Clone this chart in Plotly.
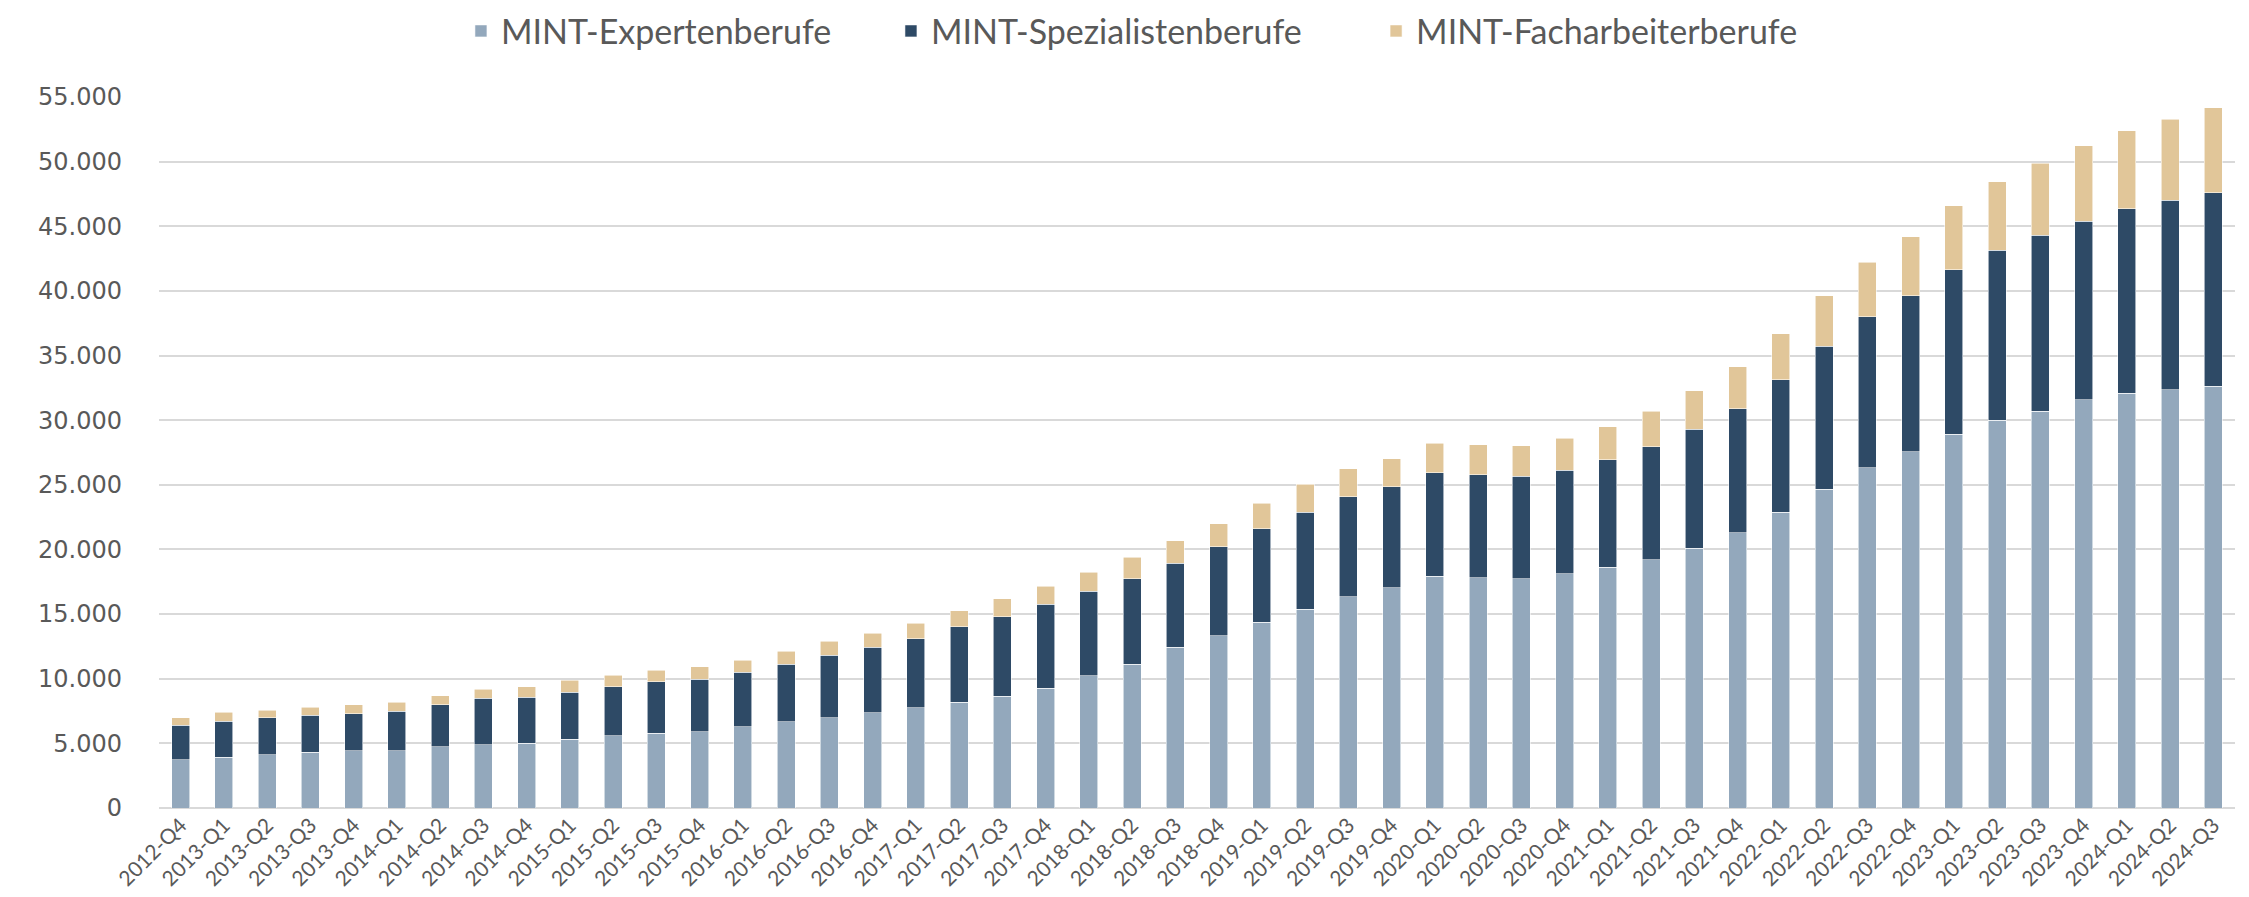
import plotly.graph_objects as go

quarters = [
    "2012-Q4",
    "2013-Q1", "2013-Q2", "2013-Q3", "2013-Q4",
    "2014-Q1", "2014-Q2", "2014-Q3", "2014-Q4",
    "2015-Q1", "2015-Q2", "2015-Q3", "2015-Q4",
    "2016-Q1", "2016-Q2", "2016-Q3", "2016-Q4",
    "2017-Q1", "2017-Q2", "2017-Q3", "2017-Q4",
    "2018-Q1", "2018-Q2", "2018-Q3", "2018-Q4",
    "2019-Q1", "2019-Q2", "2019-Q3", "2019-Q4",
    "2020-Q1", "2020-Q2", "2020-Q3", "2020-Q4",
    "2021-Q1", "2021-Q2", "2021-Q3", "2021-Q4",
    "2022-Q1", "2022-Q2", "2022-Q3", "2022-Q4",
    "2023-Q1", "2023-Q2", "2023-Q3", "2023-Q4",
    "2024-Q1", "2024-Q2", "2024-Q3",
]

experten = [
    3740,
    3920, 4120, 4330, 4430,
    4430, 4720, 4900, 5000,
    5310, 5590, 5800, 5890,
    6270, 6680, 6970, 7380,
    7760, 8180, 8660, 9250,
    10230, 11130, 12420, 13320,
    14360, 15360, 16360, 17050,
    17940, 17830, 17750, 18140,
    18640, 19220, 20110, 21290,
    22870, 24650, 26330, 27540,
    28930, 30000, 30680, 31570,
    32070, 32350, 32640,
]

spezialisten = [
    2650,
    2780, 2870, 2860, 2860,
    3070, 3270, 3580, 3580,
    3660, 3790, 3970, 4060,
    4240, 4450, 4860, 5040,
    5350, 5830, 6120, 6510,
    6530, 6610, 6500, 6890,
    7230, 7530, 7730, 7820,
    8010, 7930, 7900, 7980,
    8290, 8740, 9180, 9580,
    10270, 11060, 11660, 12090,
    12700, 13130, 13620, 13800,
    14300, 14660, 14940,
]

facharbeiter = [
    600,
    700, 590, 590, 700,
    700, 700, 700, 800,
    900, 880, 900, 990,
    930, 980, 1070, 1080,
    1180, 1260, 1390, 1390,
    1470, 1670, 1770, 1770,
    1980, 2150, 2170, 2140,
    2260, 2340, 2360, 2480,
    2560, 2720, 2980, 3280,
    3560, 3920, 4240, 4570,
    4960, 5310, 5570, 5850,
    6030, 6280, 6600,
]

series_names = ["MINT-Expertenberufe", "MINT-Spezialistenberufe", "MINT-Facharbeiterberufe"]
series_colors = ["#93A8BC", "#2E4A66", "#E1C699"]
series_values = [experten, spezialisten, facharbeiter]
legend_ids = ["legend", "legend2", "legend3"]
legend_x = [0.2014, 0.3926, 0.6083]

text_color = "#595959"

fig = go.Figure()
for name, color, vals, lid in zip(series_names, series_colors, series_values, legend_ids):
    fig.add_trace(go.Bar(
        x=quarters, y=vals, name=name, legend=lid,
        marker=dict(color=color, line=dict(color="rgba(255,255,255,0.7)", width=0.8)),
    ))

legend_style = dict(
    orientation="h",
    xref="container", yref="container",
    xanchor="left",
    y=0.974, yanchor="middle",
    font=dict(family="Lato", size=34, color=text_color),
    itemwidth=30,
    bgcolor="rgba(0,0,0,0)",
)

fig.update_layout(
    barmode="stack",
    bargap=0.58,
    width=2249, height=897,
    margin=dict(l=151, r=22, t=89, b=97, autoexpand=False),
    paper_bgcolor="white", plot_bgcolor="white",
    separators=",.",
    font=dict(family="Lato", color=text_color),
    showlegend=True,
    legend=dict(legend_style, x=legend_x[0]),
    legend2=dict(legend_style, x=legend_x[1]),
    legend3=dict(legend_style, x=legend_x[2]),
    xaxis=dict(
        type="category",
        tickangle=-45,
        tickfont=dict(family="Lato", size=21, color=text_color),
        showgrid=False,
        showline=False,
        ticks="",
        automargin=False,
    ),
    yaxis=dict(
        range=[0, 55000],
        tick0=0, dtick=5000,
        tickformat=",d",
        tickfont=dict(family="DejaVu Sans", size=24, color=text_color),
        showgrid=True, gridcolor="#D9D9D9", gridwidth=2,
        zeroline=True, zerolinecolor="#D9D9D9", zerolinewidth=2,
        showline=False,
        ticks="",
        ticklabelstandoff=36,
        automargin=False,
    ),
)

fig.write_html("out.html")
